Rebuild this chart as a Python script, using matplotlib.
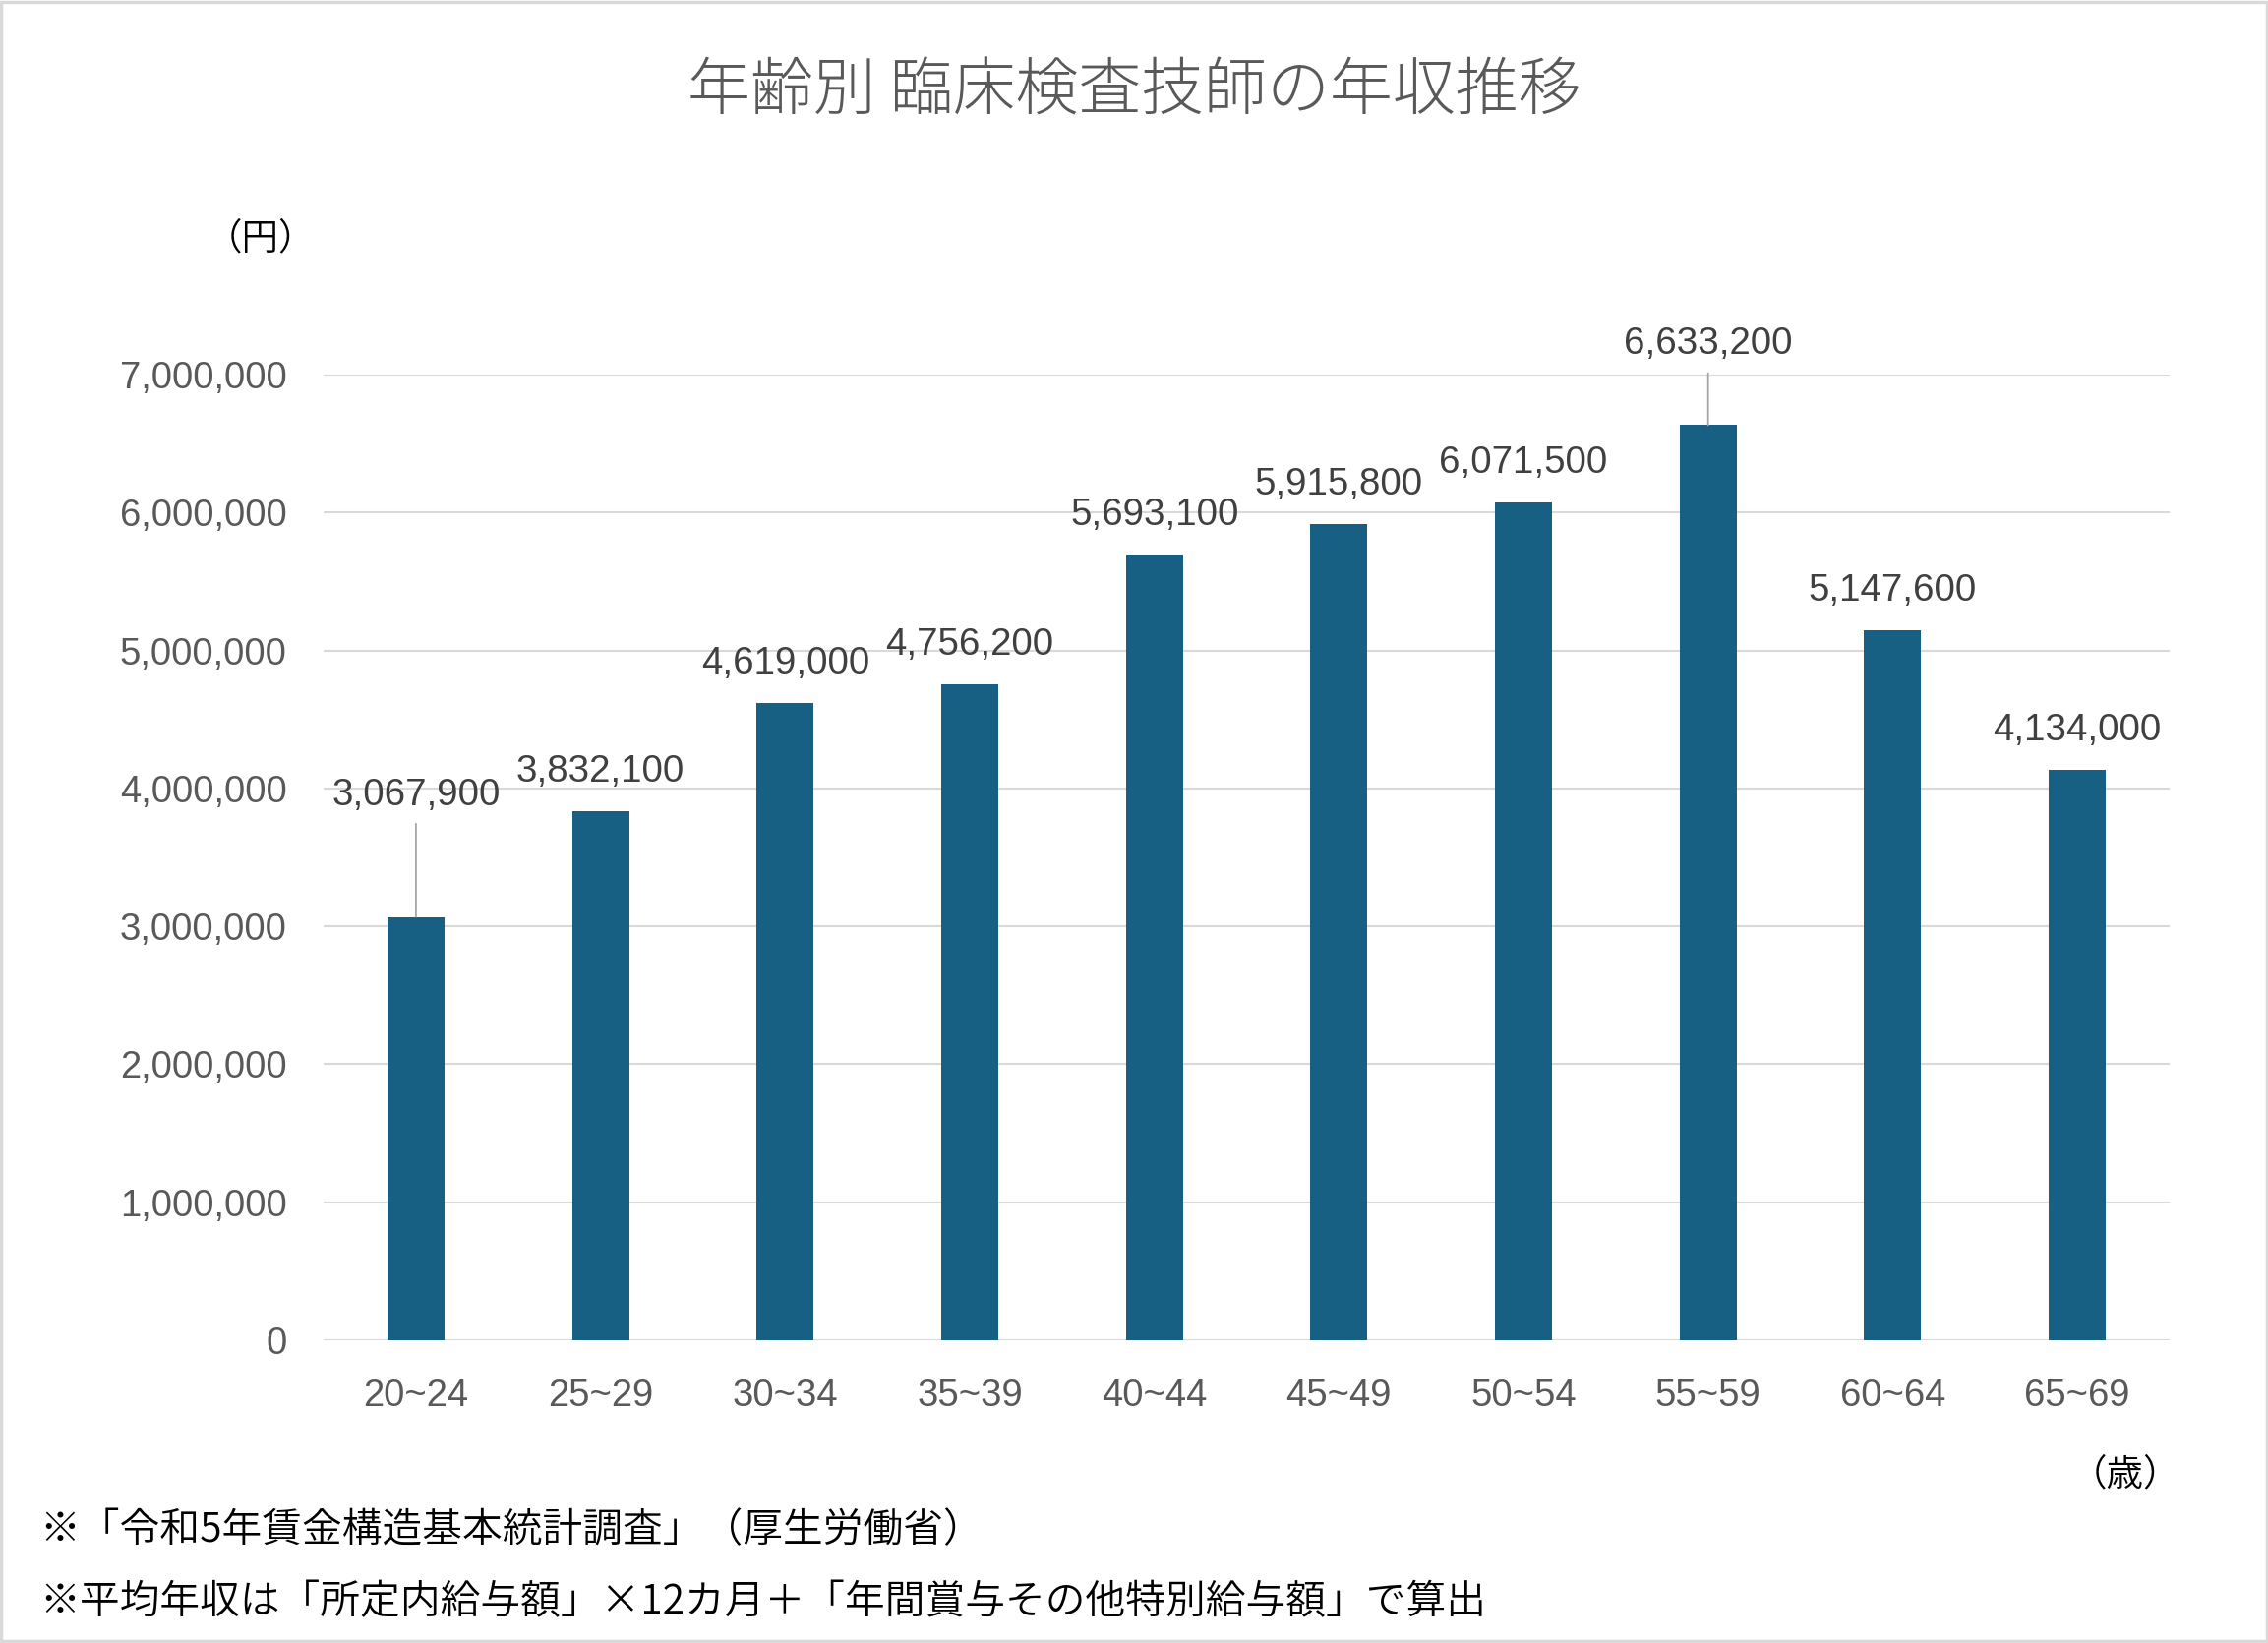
import matplotlib
matplotlib.use("Agg")
import matplotlib.pyplot as plt
from matplotlib.patches import Rectangle

# data
AGE_GROUPS = ["20~24", "25~29", "30~34", "35~39", "40~44",
              "45~49", "50~54", "55~59", "60~64", "65~69"]
ANNUAL_INCOME = [3067900, 3832100, 4619000, 4756200, 5693100,
                 5915800, 6071500, 6633200, 5147600, 4134000]
Y_TICKS = [0, 1000000, 2000000, 3000000, 4000000, 5000000, 6000000, 7000000]

TITLE = "年齢別 臨床検査技師の年収推移"
NOTE_1 = "※「令和5年賃金構造基本統計調査」（厚生労働省）"
NOTE_2 = "※平均年収は「所定内給与額」×12カ月＋「年間賞与その他特別給与額」で算出"

BAR_COLOR = "#176083"
GRID_COLOR = "#d9d9d9"
TICK_COLOR = "#595959"
LABEL_COLOR = "#404040"
JP_FONT = ["Noto Sans CJK JP", "DejaVu Sans"]
NUM_FONT = ["Liberation Sans", "DejaVu Sans"]

# labels that were dragged up in the original, in pixels above the bar top
DEFAULT_OFFSET = 40
MOVED_OFFSETS = {0: 124, 7: 82}


def main() -> None:
    fig = plt.figure(figsize=(23.06, 16.71), dpi=100)
    ax = fig.add_axes([0.1427, 0.1843, 0.8139, 0.5877])

    x = list(range(len(AGE_GROUPS)))
    ax.bar(x, ANNUAL_INCOME, width=0.31, color=BAR_COLOR, zorder=3)

    ax.set_xlim(-0.5, len(AGE_GROUPS) - 0.5)
    ax.set_ylim(0, 7000000)
    ax.set_yticks(Y_TICKS)
    ax.set_yticklabels([f"{v:,}" for v in Y_TICKS])
    ax.set_xticks(x)
    ax.set_xticklabels(AGE_GROUPS)

    for lab in ax.get_xticklabels() + ax.get_yticklabels():
        lab.set_family(NUM_FONT)
        lab.set_fontsize(27.5)
        lab.set_color(TICK_COLOR)
    ax.tick_params(axis="y", length=0, pad=27)
    ax.tick_params(axis="x", length=0, pad=28)

    ax.grid(axis="y", color=GRID_COLOR, lw=1.5, zorder=0)
    for s in ax.spines.values():
        s.set_visible(False)

    for i, v in enumerate(ANNUAL_INCOME):
        off = MOVED_OFFSETS.get(i, DEFAULT_OFFSET)
        arrow = None
        if i in MOVED_OFFSETS:
            arrow = dict(arrowstyle="-", color="#a6a6a6", lw=1.3, shrinkA=6, shrinkB=0)
        ax.annotate(f"{v:,}", xy=(i, v), xytext=(0, off), textcoords="offset pixels",
                    ha="center", va="center", fontsize=27.7, family=NUM_FONT,
                    color=LABEL_COLOR, annotation_clip=False, arrowprops=arrow, zorder=4)

    fig.text(0.5, 1 - 94 / 1671, TITLE, ha="center", va="center", fontsize=46,
             family=JP_FONT, fontweight="light", color=TICK_COLOR)
    fig.text(265 / 2306, 1 - 243 / 1671, "（円）", ha="center", va="center",
             fontsize=27, family=JP_FONT, fontweight=350, color="black")
    fig.text(2217 / 2306, 1 - 1500 / 1671, "（歳）", ha="right", va="center",
             fontsize=27, family=JP_FONT, fontweight=350, color="black")
    fig.text(40 / 2306, 1 - 1557 / 1671, NOTE_1, ha="left", va="center",
             fontsize=29.3, family=JP_FONT, fontweight=350, color="black")
    fig.text(40 / 2306, 1 - 1630 / 1671, NOTE_2, ha="left", va="center",
             fontsize=29.3, family=JP_FONT, fontweight=350, color="black")

    # thin grey frame around the chart area
    fig.patches.append(Rectangle((0.0006, 0.0009), 0.9988, 0.9982, transform=fig.transFigure,
                                 fill=False, edgecolor=GRID_COLOR, lw=2.5))

    fig.savefig("out.png", dpi=100, facecolor="white")
    plt.close(fig)


if __name__ == "__main__":
    main()
